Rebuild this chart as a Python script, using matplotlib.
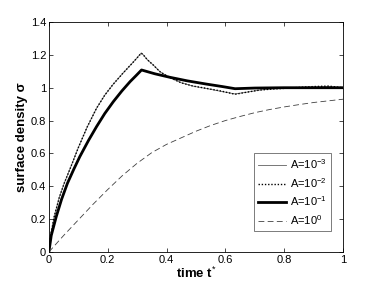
import matplotlib
matplotlib.use("Agg")
import matplotlib.pyplot as plt

plt.rcParams["font.family"] = ["Liberation Sans", "DejaVu Sans"]
plt.rcParams["mathtext.fontset"] = "custom"
plt.rcParams["mathtext.rm"] = "Liberation Sans"
plt.rcParams["mathtext.bf"] = "Liberation Sans:bold"

# fast curves (A=1e-3, A=1e-2)
t_fast = [0, 0.006, 0.018, 0.035, 0.052, 0.075, 0.1, 0.13, 0.162, 0.19, 0.219,
          0.25, 0.276, 0.295, 0.314, 0.321, 0.335, 0.355, 0.378, 0.41, 0.45,
          0.49, 0.536, 0.585, 0.633, 0.67, 0.718, 0.76, 0.81, 0.86, 0.9, 0.95, 1.0]
a3_vals = [0, 0.1, 0.215, 0.33, 0.418, 0.52, 0.635, 0.76, 0.875, 0.955, 1.022,
           1.085, 1.135, 1.172, 1.212, 1.2, 1.17, 1.138, 1.097, 1.062, 1.03,
           1.01, 0.995, 0.978, 0.962, 0.972, 0.986, 0.993, 0.997, 1.002, 1.004, 1.006, 1.0]
a2_vals = [0, 0.1, 0.215, 0.33, 0.418, 0.52, 0.635, 0.76, 0.875, 0.955, 1.022,
           1.085, 1.135, 1.172, 1.21, 1.2, 1.17, 1.138, 1.097, 1.063, 1.03,
           1.01, 0.996, 0.98, 0.96, 0.972, 0.986, 0.992, 0.997, 1.003, 1.007, 1.01, 1.0]

# A=1e-1
t_mid = [0, 0.008, 0.025, 0.043, 0.063, 0.085, 0.105, 0.135, 0.162, 0.19,
         0.219, 0.248, 0.276, 0.296, 0.315, 0.36, 0.41, 0.47, 0.536, 0.59,
         0.633, 0.7, 0.8, 0.9, 1.0]
a1_vals = [0, 0.1, 0.215, 0.32, 0.418, 0.505, 0.58, 0.68, 0.763, 0.843,
           0.915, 0.98, 1.037, 1.073, 1.108, 1.085, 1.064, 1.042, 1.022, 1.007,
           0.994, 0.998, 1.0, 1.0, 1.0]

# A=1e0
t_slow = [0, 0.05, 0.1, 0.15, 0.2, 0.25, 0.3, 0.35, 0.4, 0.45, 0.5,
          0.55, 0.6, 0.65, 0.7, 0.75, 0.8, 0.85, 0.9, 0.95, 1.0]
a0_vals = [0, 0.1, 0.195, 0.29, 0.38, 0.465, 0.54, 0.605, 0.655, 0.695, 0.735,
           0.77, 0.80, 0.825, 0.848, 0.867, 0.883, 0.897, 0.91, 0.92, 0.93]

x_ticks = [0, 0.2, 0.4, 0.6, 0.8, 1.0]
x_labels = ["0", "0.2", "0.4", "0.6", "0.8", "1"]
y_ticks = [0, 0.2, 0.4, 0.6, 0.8, 1.0, 1.2, 1.4]
y_labels = ["0", "0.2", "0.4", "0.6", "0.8", "1", "1.2", "1.4"]

fig = plt.figure(figsize=(3.79, 2.86), dpi=100)
ax = fig.add_axes([0.129, 0.119, 0.776, 0.804])

ax.plot(t_fast, a3_vals, color="#606060", lw=0.6, label=r"A=10$^{-3}$")
ax.plot(t_fast, a2_vals, color="black", lw=1.0, ls=(0, (1, 1.3)), label=r"A=10$^{-2}$")
ax.plot(t_mid, a1_vals, color="black", lw=2.0, label=r"A=10$^{-1}$")
ax.plot(t_slow, a0_vals, color="#404040", lw=0.6, ls=(0, (7, 4)), label=r"A=10$^{0}$")

ax.set_xlim(0, 1)
ax.set_ylim(0, 1.4)
ax.set_xticks(x_ticks)
ax.set_xticklabels(x_labels)
ax.set_yticks(y_ticks)
ax.set_yticklabels(y_labels)
ax.tick_params(direction="in", length=3, width=0.5, labelsize=8,
               top=True, right=True, pad=2)
for s in ax.spines.values():
    s.set_linewidth(0.6)

ax.set_xlabel(r"time t$^{*}$", fontsize=9.5, fontweight="bold", labelpad=1)
ax.set_ylabel("surface density σ", fontsize=9.5, fontweight="bold", labelpad=2)

leg = ax.legend(loc="lower right", bbox_to_anchor=(0.959, 0.091), fontsize=8,
                frameon=True, fancybox=False, handlelength=2.5, handletextpad=0.3,
                borderpad=0.4, labelspacing=0.42, borderaxespad=0)
leg.get_frame().set_edgecolor("#404040")
leg.get_frame().set_linewidth(0.6)

fig.savefig("out.png", dpi=100)
